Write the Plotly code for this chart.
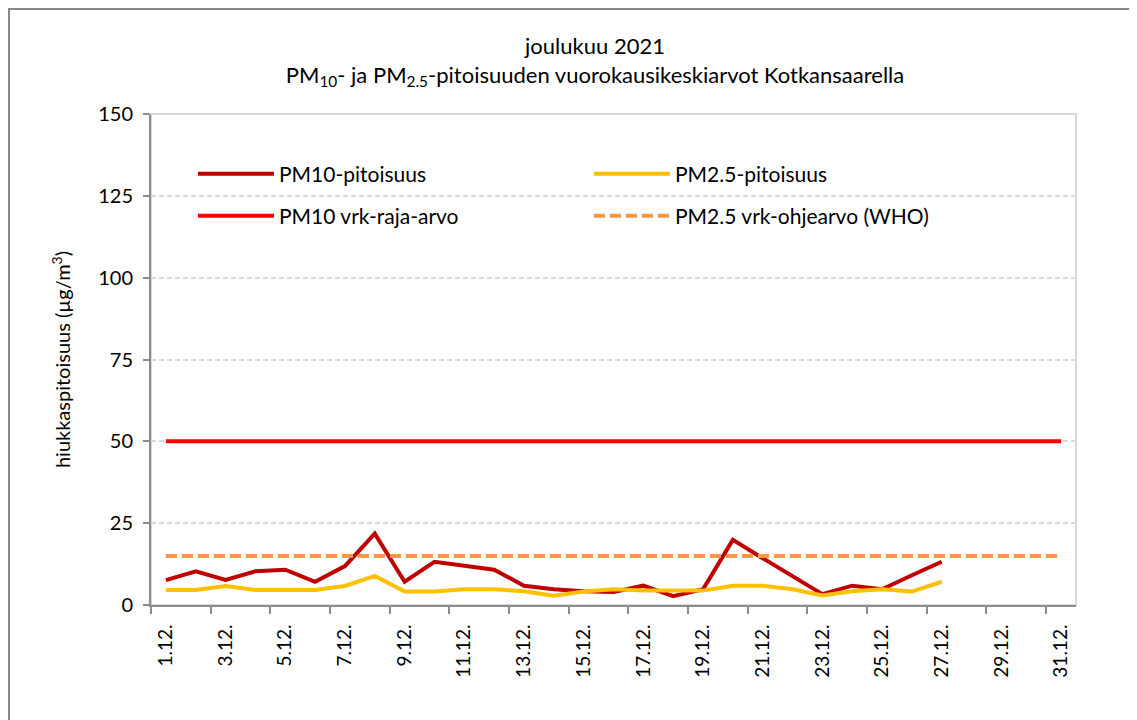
import plotly.graph_objects as go

days = list(range(1, 32))
tick_days = list(range(1, 32, 2))
tick_labels = [f"{d}.12." for d in tick_days]

pm10 = [7.6, 10.3, 7.7, 10.3, 10.8, 7.1, 11.9, 21.8, 7.1, 13.2, 12.0, 10.8, 5.9, 4.8,
        4.2, 4.0, 5.9, 2.7, 4.8, 19.9, 14.3, 8.9, 3.3, 5.9, 4.8, 9.1, 13.2]
pm25 = [4.6, 4.6, 5.8, 4.6, 4.6, 4.6, 5.8, 8.9, 4.1, 4.1, 4.8, 4.8, 4.2, 2.8,
        4.1, 4.8, 4.4, 4.3, 4.4, 5.9, 5.9, 4.8, 2.9, 4.2, 4.8, 4.1, 7.1]
pm10_limit = [50] * 31
pm25_who = [15] * 31

FONT = "Lato, Carlito, Calibri, sans-serif"

fig = go.Figure()
fig.add_trace(go.Scatter(x=days[:len(pm10)], y=pm10, mode="lines", name="PM10-pitoisuus",
                         line=dict(color="#C00000", width=4), legend="legend"))
fig.add_trace(go.Scatter(x=days[:len(pm25)], y=pm25, mode="lines", name="PM2.5-pitoisuus",
                         line=dict(color="#FFC000", width=4), legend="legend"))
fig.add_trace(go.Scatter(x=days, y=pm10_limit, mode="lines", name="PM10 vrk-raja-arvo",
                         line=dict(color="#FF0000", width=4), legend="legend2"))
fig.add_trace(go.Scatter(x=days, y=pm25_who, mode="lines", name="PM2.5 vrk-ohjearvo (WHO)",
                         line=dict(color="#F79646", width=4, dash="11px,5px"), legend="legend2"))

# page is offset by 8px body margin
OFF = 8
W, H = 1137 - OFF, 720 - OFF
L, T = 151 - OFF, 114 - OFF
R = W - (1076 - OFF)
B = H - (605 - OFF)
pw, ph = W - L - R, H - T - B


def px_x(page_x):
    return (page_x - OFF - L) / pw


def px_y(page_y):
    return (H - B - (page_y - OFF)) / ph


leg_common = dict(
    orientation="h", xanchor="left", yanchor="middle",
    entrywidth=305, entrywidthmode="pixels", bgcolor="rgba(0,0,0,0)",
    font=dict(family=FONT, size=21), itemwidth=76,
)

fig.update_layout(
    width=W, height=H,
    margin=dict(l=L, r=R, t=T, b=B),
    paper_bgcolor="white", plot_bgcolor="white",
    font=dict(family=FONT, size=20, color="#000000"),
    title=dict(
        text="joulukuu 2021<br>PM<sub>10</sub>- ja PM<sub>2.5</sub>-pitoisuuden vuorokausikeskiarvot Kotkansaarella",
        x=(595 - OFF) / W, xanchor="center", y=1 - (54 - OFF) / H, yanchor="top", yref="container",
        font=dict(family=FONT, size=22, color="#000000"),
    ),
    legend=dict(x=px_x(193), y=px_y(174), **leg_common),
    legend2=dict(x=px_x(193), y=px_y(216), **leg_common),
    showlegend=True,
    xaxis=dict(
        range=[0.5, 31.5], tickmode="array", tickvals=tick_days, ticktext=tick_labels,
        tickangle=-90, ticks="outside", ticklen=0, tickcolor="rgba(0,0,0,0)",
        ticklabelstandoff=10,
        showgrid=False, zeroline=False,
        showline=True, linecolor="#8C8C8C", linewidth=2,
        tickfont=dict(family=FONT, size=19),
        minor=dict(tickmode="array", tickvals=[d - 0.5 for d in tick_days], ticks="outside",
                   ticklen=7, tickwidth=2, tickcolor="#8C8C8C", showgrid=False),
    ),
    yaxis=dict(
        range=[0, 150], tickmode="array", tickvals=[0, 25, 50, 75, 100, 125, 150],
        ticks="outside", ticklen=6, tickwidth=2, tickcolor="#8C8C8C",
        ticklabelstandoff=6,
        showgrid=True, gridcolor="#D9D9D9", gridwidth=1.5, griddash="5px,3px",
        zeroline=False, showline=True, linecolor="#8C8C8C", linewidth=2,
        title=dict(text="hiukkaspitoisuus (µg/m<sup>3</sup>)", standoff=22,
                   font=dict(family=FONT, size=20)),
        tickfont=dict(family=FONT, size=20),
    ),
    shapes=[
        dict(type="rect", xref="paper", yref="paper", x0=0, x1=1, y0=0, y1=1,
             line=dict(color="#D9D9D9", width=2), layer="below"),
        dict(type="rect", xref="paper", yref="paper",
             x0=px_x(9), x1=px_x(1160), y0=px_y(760), y1=px_y(9),
             line=dict(color="#898989", width=2), layer="below"),
    ],
)

fig.write_html("out.html")
